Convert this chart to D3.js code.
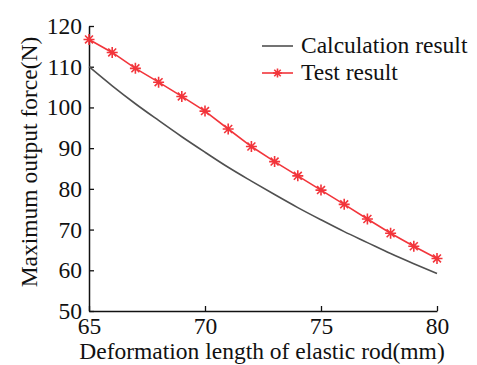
<!DOCTYPE html>
<html>
<head>
<meta charset="utf-8">
<script src="https://cdn.jsdelivr.net/npm/d3@7"></script>
<style>
  body { margin: 0; background: #fff; }
  svg { display: block; }
</style>
</head>
<body>
<div id="chart"></div>
<script>
const lengths = [65, 66, 67, 68, 69, 70, 71, 72, 73, 74, 75, 76, 77, 78, 79, 80];
const calcForce = [110, 105.3, 100.9, 96.8, 92.8, 89.0, 85.3, 81.9, 78.6, 75.4, 72.4, 69.5, 66.8, 64.1, 61.6, 59.2];
const testForce = [116.7, 113.5, 109.6, 106.2, 102.7, 99.1, 94.7, 90.4, 86.7, 83.2, 79.7, 76.2, 72.6, 69.1, 65.9, 62.9];
const xTicks = [65, 70, 75, 80];
const yTicks = [50, 60, 70, 80, 90, 100, 110, 120];
const seriesNames = ['Calculation result', 'Test result'];

const W = 477, H = 365;
const margin = { top: 26, right: 40, bottom: 54, left: 89 };
const width = W - margin.left - margin.right;
const height = H - margin.top - margin.bottom;

const svg = d3.select('#chart').append('svg')
  .attr('width', W)
  .attr('height', H);

const g = svg.append('g')
  .attr('transform', `translate(${margin.left},${margin.top})`);

const x = d3.scaleLinear().domain([65, 80]).range([0, width]);
const y = d3.scaleLinear().domain([50, 120]).range([height, 0]);

const red = '#f2353b';
const grey = '#505050';
const fs = '23.5px';
const serif = '"Liberation Serif"';

// X axis (ticks point inward)
g.append('g')
  .attr('transform', `translate(0,${height})`)
  .call(d3.axisBottom(x).tickValues(xTicks).tickSizeInner(-5).tickSizeOuter(0).tickPadding(6))
  .attr('font-family', null).attr('font-size', null)
  .call(a => a.select('.domain').attr('stroke', '#111').attr('stroke-width', 1.5))
  .call(a => a.selectAll('.tick line').attr('stroke', '#111').attr('stroke-width', 1.3))
  .call(a => a.selectAll('text').attr('fill', '#111').attr('dy', '0.71em')
    .style('font-family', serif).style('font-size', fs));

// Y axis
g.append('g')
  .call(d3.axisLeft(y).tickValues(yTicks).tickSizeInner(-5).tickSizeOuter(0).tickPadding(7))
  .attr('font-family', null).attr('font-size', null)
  .call(a => a.select('.domain').attr('stroke', '#111').attr('stroke-width', 1.5))
  .call(a => a.selectAll('.tick line').attr('stroke', '#111').attr('stroke-width', 1.3))
  .call(a => a.selectAll('text').attr('fill', '#111')
    .style('font-family', serif).style('font-size', fs));

// Axis labels
svg.append('text')
  .attr('x', 262)
  .attr('y', 359)
  .attr('text-anchor', 'middle')
  .style('font-family', serif)
  .style('font-size', fs)
  .attr('fill', '#111')
  .text('Deformation length of elastic rod(mm)');

svg.append('text')
  .attr('transform', 'translate(37,162) rotate(-90)')
  .attr('text-anchor', 'middle')
  .style('font-family', serif)
  .style('font-size', fs)
  .attr('fill', '#111')
  .text('Maximum output force(N)');

// Calculation curve
g.append('path')
  .datum(lengths)
  .attr('fill', 'none')
  .attr('stroke', grey)
  .attr('stroke-width', 1.6)
  .attr('d', d3.line()
    .x(d => x(d))
    .y((d, i) => y(calcForce[i]))
    .curve(d3.curveMonotoneX));

// Test line
g.append('path')
  .datum(lengths)
  .attr('fill', 'none')
  .attr('stroke', red)
  .attr('stroke-width', 1.6)
  .attr('d', d3.line()
    .x(d => x(d))
    .y((d, i) => y(testForce[i])));

// Asterisk marker
function star(sel, size) {
  const r = size / 2;
  const d = r * 0.72;
  sel.append('path')
    .attr('d', `M${-r},0H${r}M0,${-r}V${r}M${-d},${-d}L${d},${d}M${-d},${d}L${d},${-d}`)
    .attr('stroke', red)
    .attr('stroke-width', 1.6)
    .attr('fill', 'none');
}

g.selectAll('.pt')
  .data(lengths)
  .enter().append('g')
  .attr('class', 'pt')
  .attr('transform', (d, i) => `translate(${x(d)},${y(testForce[i])})`)
  .each(function () { star(d3.select(this), 11); });

// Legend
const legend = svg.append('g');
legend.append('line')
  .attr('x1', 262).attr('x2', 293).attr('y1', 46).attr('y2', 46)
  .attr('stroke', grey).attr('stroke-width', 1.6);
legend.append('line')
  .attr('x1', 262).attr('x2', 293).attr('y1', 73).attr('y2', 73)
  .attr('stroke', red).attr('stroke-width', 1.6);
star(legend.append('g').attr('transform', 'translate(277.5,73)'), 9);
legend.selectAll('.lt')
  .data(seriesNames)
  .enter().append('text')
  .attr('x', 301)
  .attr('y', (d, i) => 53 + i * 27)
  .style('font-family', serif)
  .style('font-size', fs)
  .attr('fill', '#111')
  .text(d => d);
</script>
</body>
</html>
